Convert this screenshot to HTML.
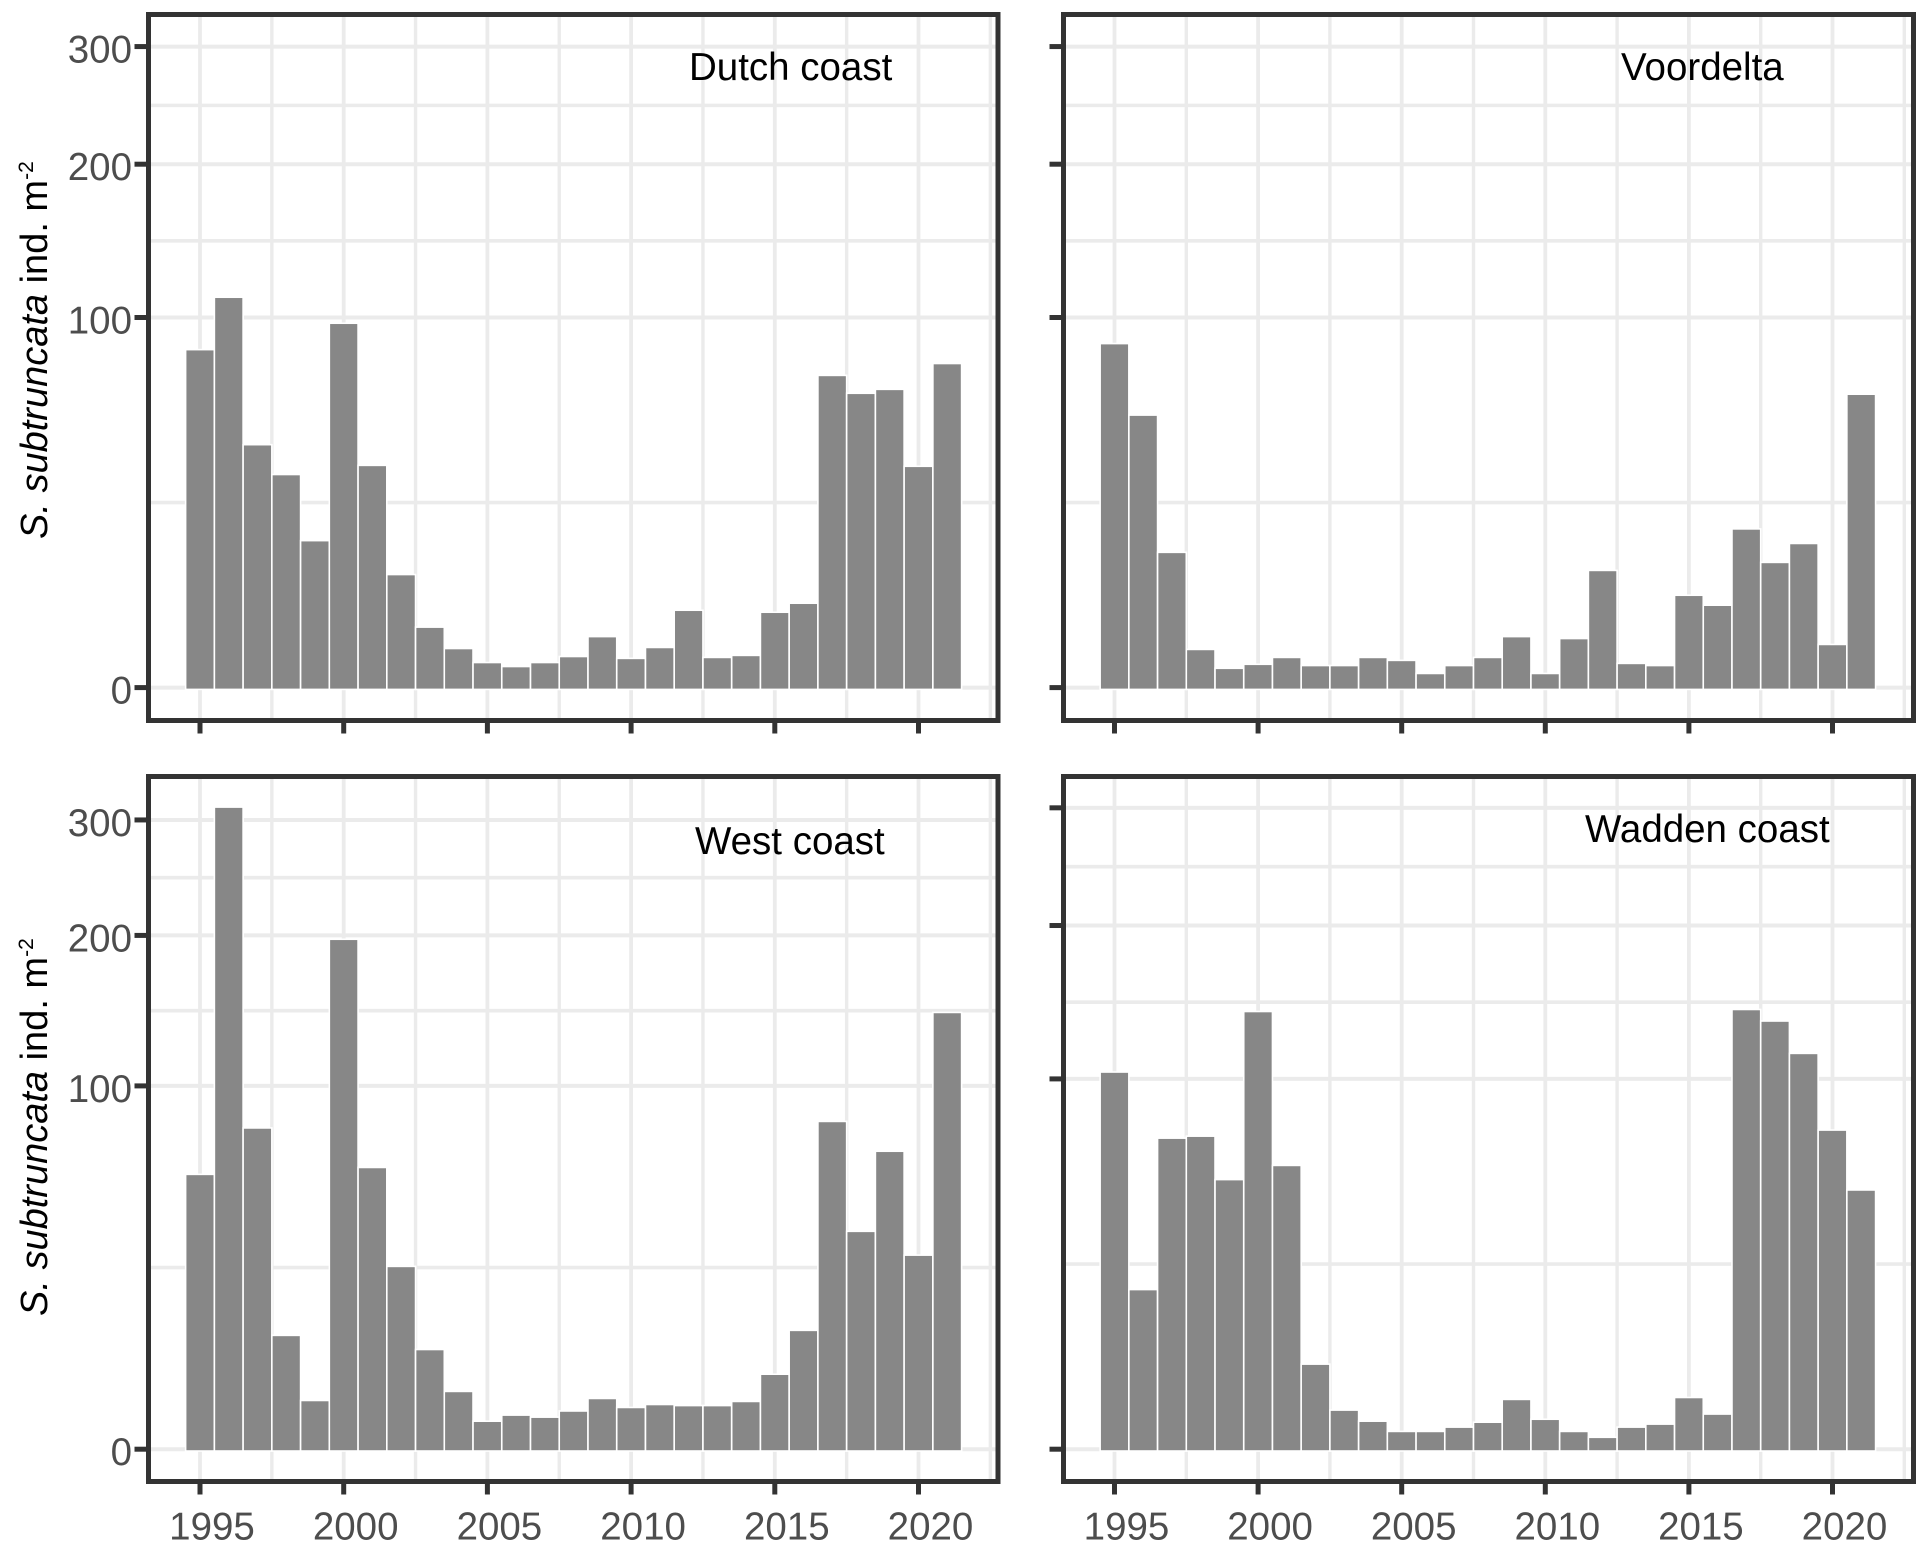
<!DOCTYPE html>
<html lang="en">
<head>
<meta charset="utf-8">
<title>S. subtruncata density by region</title>
<style>
html,body{margin:0;padding:0;background:#fff;}
svg{display:block;font-family:"Liberation Sans",Arial,sans-serif;}
</style>
</head>
<body>
<svg id="chart" xmlns="http://www.w3.org/2000/svg" width="1928" height="1551" viewBox="0 0 1928 1551"></svg>
<script>
const years = [1995,1996,1997,1998,1999,2000,2001,2002,2003,2004,2005,2006,2007,2008,2009,2010,2011,2012,2013,2014,2015,2016,2017,2018,2019,2020,2021];
const dutchCoast = [83.0,110.8,42.8,32.9,15.6,96.5,35.8,9.2,2.6,1.07,0.43,0.30,0.43,0.67,1.84,0.59,1.13,4.28,0.63,0.72,4.06,5.1,70.8,62.9,64.6,35.5,76.3];
const voordelta = [86.0,53.9,13.2,1.02,0.25,0.37,0.63,0.33,0.33,0.63,0.51,0.13,0.33,0.63,1.84,0.13,1.70,9.89,0.40,0.33,6.12,4.86,18.2,11.3,15.0,1.31,62.5];
const westCoast = [56.9,311.6,77.8,9.68,1.74,196.4,59.8,25.1,7.41,2.46,0.56,0.84,0.74,1.06,1.89,1.27,1.46,1.39,1.39,1.67,4.17,10.56,81.0,35.7,66.9,28.3,144];
const waddenCoast = [103.3,18.4,70.2,71.1,52.7,139.2,58.4,5.18,1.07,0.54,0.21,0.21,0.33,0.50,1.75,0.62,0.21,0.09,0.33,0.43,1.89,0.86,140.5,133.2,113.8,73.9,48.7];
const yTicks = [0,100,200,300];
const xTicks = [1995,2000,2005,2010,2015,2020];
const xMinorTicks = [1997.5,2002.5,2007.5,2012.5,2017.5,2022.5];

const NS = "http://www.w3.org/2000/svg";
const svg = document.getElementById("chart");

const panels = [
  {key:"dutch-coast",  title:"Dutch coast",  values:dutchCoast,  l:148.5, r:998,    t:14.5,  b:720.5,  y0:687.6,  unit:37.01, x0:200,    step:28.74, tx:689,  ty:80,  yLabels:true,  xLabels:false},
  {key:"voordelta",    title:"Voordelta",    values:voordelta,   l:1063.5,r:1913.5, t:14.5,  b:720.5,  y0:687.6,  unit:37.01, x0:1114.5, step:28.72, tx:1621, ty:80,  yLabels:false, xLabels:false},
  {key:"west-coast",   title:"West coast",   values:westCoast,   l:148.5, r:998,    t:776.5, b:1481.5, y0:1449.2, unit:36.33, x0:200,    step:28.74, tx:695,  ty:854, yLabels:true,  xLabels:true},
  {key:"wadden-coast", title:"Wadden coast", values:waddenCoast, l:1063.5,r:1913.5, t:776.5, b:1481.5, y0:1449.2, unit:37.03, x0:1114.5, step:28.72, tx:1585, ty:842, yLabels:false, xLabels:true}
];

function make(tag, props, parent){
  const n = document.createElementNS(NS, tag);
  for (const k in props) n.setAttribute(k, props[k]);
  parent.appendChild(n);
  return n;
}

panels.forEach(function(p){
  const yScale = function(v){ return p.y0 - Math.sqrt(v) * p.unit; };
  const xScale = function(y){ return p.x0 + (y - 1995) * p.step; };

  const g = make("g", {}, svg);
  
  

  // minor horizontal grid: midpoints in transformed space
  for (let i = 0; i < yTicks.length - 1; i++) {
    const mid = (yScale(yTicks[i]) + yScale(yTicks[i + 1])) / 2;
    const line = make("line", {x1:p.l, x2:p.r, y1:mid, y2:mid, stroke:"#ebebeb", "stroke-width":3.6}, g);
    
    
  }
  xMinorTicks.forEach(function(y){
    const x = xScale(y);
    if (x >= p.r) return;
    const line = make("line", {x1:x, x2:x, y1:p.t, y2:p.b, stroke:"#ebebeb", "stroke-width":3.4}, g);
    
    
  });
  yTicks.forEach(function(v){
    const y = yScale(v);
    const line = make("line", {x1:p.l, x2:p.r, y1:y, y2:y, stroke:"#ebebeb", "stroke-width":4}, g);
    
    
  });
  xTicks.forEach(function(yr){
    const x = xScale(yr);
    const line = make("line", {x1:x, x2:x, y1:p.t, y2:p.b, stroke:"#ebebeb", "stroke-width":3.8}, g);
    
    
  });

  // bars: the white outline eats 0.8px, so the rect is grown to keep the visible edge on the value
  years.forEach(function(yr, i){
    const top = yScale(p.values[i]) - 0.8;
    const bar = make("rect", {
      x: xScale(yr) - p.step / 2,
      y: top,
      width: p.step,
      height: p.y0 + 1.8 - top,
      fill: "#878787",
      stroke: "#ffffff",
      "stroke-width": 1.6
    }, g);
    
    
  });

  // panel border
  const border = make("rect", {x:p.l, y:p.t, width:p.r - p.l, height:p.b - p.t, fill:"none", stroke:"#333333", "stroke-width":5}, g);
  
  

  // y ticks and labels
  yTicks.forEach(function(v){
    const y = yScale(v);
    const tick = make("line", {x1:p.l - 14, x2:p.l, y1:y, y2:y, stroke:"#333333", "stroke-width":5}, g);
    
    
    if (p.yLabels) {
      const t = make("text", {x:132, y:y + 16, "text-anchor":"end", "font-size":38.5, fill:"#4d4d4d"}, g);
      t.textContent = String(v);
      
      
    }
  });

  // x ticks and labels
  xTicks.forEach(function(yr){
    const x = xScale(yr);
    const tick = make("line", {x1:x, x2:x, y1:p.b, y2:p.b + 13, stroke:"#333333", "stroke-width":5}, g);
    
    
    if (p.xLabels) {
      const t = make("text", {x:x + 12, y:1539.5, "text-anchor":"middle", "font-size":38.5, fill:"#4d4d4d"}, g);
      t.textContent = String(yr);
      
      
    }
  });

  // panel annotation
  const label = make("text", {x:p.tx, y:p.ty, "font-size":38.5, fill:"#000000"}, g);
  label.textContent = p.title;
  
  

  // y axis title
  if (p.yLabels) {
    const yc = p.key === "dutch-coast" ? 539 : 1316;
    const title = make("text", {transform:"translate(47 " + yc + ") rotate(-90)", "font-size":38, fill:"#000000"}, g);
    
    
    const a = make("tspan", {"font-style":"italic"}, title);
    a.textContent = "S. subtruncata";
    const b = make("tspan", {}, title);
    b.textContent = " ind. m";
    const c = make("tspan", {"font-size":21, dy:-14}, title);
    c.textContent = "-2";
  }
});
</script>
</body>
</html>
